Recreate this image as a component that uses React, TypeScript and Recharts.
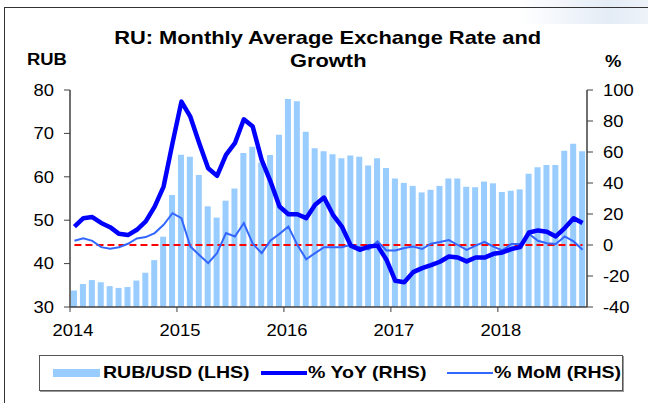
import { ComposedChart, Bar, Line, XAxis, YAxis } from "recharts"

// monthly, Jan 2014 .. Oct 2018
const rubUsd = [
  33.8, 35.3, 36.2, 35.7, 34.8, 34.4, 34.6, 36.1, 37.9, 40.8, 46.2, 55.8,
  65.1, 64.6, 60.4, 53.2, 50.6, 54.5, 57.3, 65.5, 66.9, 63.3, 65.0, 69.7,
  77.9, 77.4, 70.4, 66.6, 65.9, 65.2, 64.3, 64.9, 64.6, 62.6, 64.3, 62.0,
  59.6, 58.6, 57.9, 56.4, 57.0, 57.9, 59.6, 59.6, 57.7, 57.6, 58.9, 58.5,
  56.5, 56.8, 57.1, 60.7, 62.2, 62.7, 62.7, 66.0, 67.6, 65.9,
]

const yoy = [
  11.9, 17.3, 18.0, 14.2, 11.5, 7.2, 6.4, 9.8, 15.2, 24.8, 37.7, 65.7,
  92.5, 82.8, 65.7, 49.5, 44.6, 58.1, 65.7, 81.1, 76.4, 54.9, 40.9, 24.8,
  19.8, 19.8, 17.3, 25.9, 30.6, 19.5, 11.9, -0.4, -3.1, -1.0, -0.4, -9.5,
  -23.1, -24.0, -17.5, -14.9, -13.0, -10.8, -7.4, -8.1, -10.6, -8.1, -8.1, -5.7,
  -4.8, -2.6, -1.4, 8.1, 9.4, 8.5, 5.5, 10.9, 17.3, 14.2,
]

const mom = [
  2.7, 4.4, 2.7, -1.4, -2.4, -1.4, 0.8, 4.2, 5.1, 7.7, 13.0, 20.5,
  17.3, -1.0, -6.4, -11.7, -5.2, 7.7, 5.5, 14.2, 0.8, -5.2, 2.9, 7.2,
  11.9, 0.1, -9.2, -5.2, -1.4, -1.4, -1.4, 0.1, -1.4, -2.8, 2.3, -3.5,
  -3.5, -2.0, -1.0, -2.6, 0.8, 1.9, 3.2, 0.0, -3.1, -0.4, 2.1, -1.0,
  -3.5, 0.6, 0.6, 7.2, 2.7, 1.2, 0.6, 5.5, 2.3, -3.1,
]

const yearTicks = [0, 12, 24, 36, 48]
const yearLabels = ["2014", "2015", "2016", "2017", "2018"]
const lhsTicks = [30, 40, 50, 60, 70, 80]
const rhsTicks = [-40, -20, 0, 20, 40, 60, 80, 100]

const data = rubUsd.map((v, i) => ({ x: i + 0.5, rub: v, yoy: yoy[i], mom: mom[i], zero: 0 }))

const FONT = '"Liberation Sans", Arial, sans-serif'
const AXIS = "#404040"

function YearTick(props: any) {
  const { x, y, payload, index } = props
  const label = yearLabels[yearTicks.indexOf(payload.value)] ?? yearLabels[index]
  return (
    <g transform={`translate(${x + 3},${y})`}>
      <text transform="scale(1.15,1)" textAnchor="middle" dy="0.72em" fontSize={16} fontFamily={FONT} fill="#000">
        {label}
      </text>
    </g>
  )
}

function ValueTick(props: any) {
  const { x, y, payload, textAnchor } = props
  return (
    <g transform={`translate(${x},${y})`}>
      <text transform="scale(1.15,1)" textAnchor={textAnchor} dy="0.36em" fontSize={16} fontFamily={FONT} fill="#000">
        {payload.value}
      </text>
    </g>
  )
}

const stretch = { display: "inline-block", transform: "scaleX(1.15)" }

export default function App() {
  return (
    <div
      style={{
        position: "absolute",
        left: 0,
        top: 0,
        width: 648,
        height: 403,
        overflow: "hidden",
        background: "#fff",
        fontFamily: FONT,
      }}
    >
      <div
        style={{
          position: "absolute",
          left: 520,
          top: 0,
          width: 128,
          height: 24,
          background: "linear-gradient(to right, rgba(255,255,255,0), #e4ecf6 70%, #eef3f9)",
        }}
      />
      <div style={{ position: "absolute", left: 4, top: 7, width: 700, height: 450, borderLeft: "1px solid #333", borderTop: "1px solid #333" }} />

      <div style={{ position: "absolute", left: 0, top: 26, width: 656, textAlign: "center", fontSize: 19, fontWeight: "bold", lineHeight: "23px" }}>
        <div><span style={{ ...stretch, transformOrigin: "center" }}>RU: Monthly Average Exchange Rate and</span></div>
        <div><span style={{ ...stretch, transformOrigin: "center" }}>Growth</span></div>
      </div>
      <div style={{ position: "absolute", left: 27, top: 50, fontSize: 16, fontWeight: "bold", lineHeight: "20px" }}>
        <span style={{ ...stretch, transformOrigin: "left" }}>RUB</span>
      </div>
      <div style={{ position: "absolute", left: 605, top: 52, fontSize: 16, fontWeight: "bold", lineHeight: "20px" }}>
        <span style={{ ...stretch, transformOrigin: "left" }}>%</span>
      </div>

      <div style={{ position: "absolute", left: 0, top: 0 }}>
        <ComposedChart width={648} height={403} data={data} margin={{ top: 90, right: 11, left: 20, bottom: 66 }}>
          <XAxis
            dataKey="x"
            type="number"
            domain={[0, 58]}
            ticks={yearTicks}
            interval={0}
            height={30}
            tickSize={5}
            tickMargin={12}
            tick={<YearTick />}
            axisLine={{ stroke: AXIS, strokeWidth: 1.5 }}
            tickLine={{ stroke: AXIS }}
          />
          <YAxis
            yAxisId="left"
            domain={[30, 80]}
            ticks={lhsTicks}
            width={50}
            tickSize={6}
            tickMargin={10}
            tick={<ValueTick />}
            axisLine={{ stroke: AXIS, strokeWidth: 1.5 }}
            tickLine={{ stroke: AXIS }}
          />
          <YAxis
            yAxisId="right"
            orientation="right"
            domain={[-40, 100]}
            ticks={rhsTicks}
            width={50}
            tickSize={6}
            tickMargin={10}
            tick={<ValueTick />}
            axisLine={{ stroke: AXIS, strokeWidth: 1.5 }}
            tickLine={{ stroke: AXIS }}
          />
          <Bar yAxisId="left" dataKey="rub" fill="#99ccff" barSize={6} isAnimationActive={false} />
          <Line yAxisId="right" dataKey="zero" stroke="#ff0000" strokeWidth={2.2} strokeDasharray="7 4" dot={false} isAnimationActive={false} />
          <Line yAxisId="right" dataKey="mom" stroke="#3366ff" strokeWidth={2} dot={false} isAnimationActive={false} />
          <Line yAxisId="right" dataKey="yoy" stroke="#0000ff" strokeWidth={4.5} strokeLinejoin="round" dot={false} isAnimationActive={false} />
        </ComposedChart>
      </div>

      <div
        style={{
          position: "absolute",
          left: 39,
          top: 355,
          width: 582,
          height: 34,
          border: "1px solid #555",
          boxShadow: "1px 1px 0 #999",
          background: "#fff",
          fontSize: 17,
          fontWeight: "bold",
        }}
      >
        <div style={{ position: "absolute", left: 13, top: 13, width: 47, height: 8, background: "#99ccff" }} />
        <div style={{ position: "absolute", left: 63, top: 6, lineHeight: "22px" }}>
          <span style={{ ...stretch, transformOrigin: "left" }}>RUB/USD (LHS)</span>
        </div>
        <div style={{ position: "absolute", left: 221, top: 15, width: 46, height: 4, background: "#0000ff" }} />
        <div style={{ position: "absolute", left: 268, top: 6, lineHeight: "22px" }}>
          <span style={{ ...stretch, transformOrigin: "left" }}>% YoY (RHS)</span>
        </div>
        <div style={{ position: "absolute", left: 407, top: 16, width: 46, height: 2, background: "#3366ff" }} />
        <div style={{ position: "absolute", left: 454, top: 6, lineHeight: "22px" }}>
          <span style={{ ...stretch, transformOrigin: "left" }}>% MoM (RHS)</span>
        </div>
      </div>
    </div>
  )
}
